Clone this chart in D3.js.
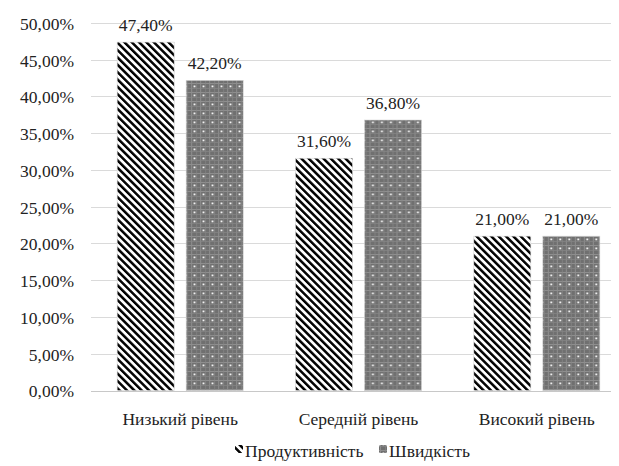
<!doctype html>
<html lang="uk">
<head>
<meta charset="utf-8">
<title>Рівні</title>
<script src="https://cdn.jsdelivr.net/npm/d3@7"></script>
<style>
  * { margin: 0; padding: 0; }
  body { background: #fff; width: 619px; height: 466px; overflow: hidden; }
</style>
</head>
<body>
<svg id="chart" width="619" height="466"></svg>
<script>
const categories = ["Низький рівень", "Середній рівень", "Високий рівень"];
const seriesNames = ["Продуктивність", "Швидкість"];
const productivity = [47.4, 31.6, 21.0];
const speed = [42.2, 36.8, 21.0];
const yTicks = [0, 5, 10, 15, 20, 25, 30, 35, 40, 45, 50];

const FONT = "'Liberation Serif', 'DejaVu Serif', 'Times New Roman', serif";
const fmt = v => v.toFixed(2).replace(".", ",") + "%";

const svg = d3.select("#chart");
const W = 619;
const plotLeft = 91, plotRight = 626, gridRight = 611;
const y0 = 390.5, y50 = 23;

const x = d3.scaleBand().domain(categories).range([plotLeft, plotRight]);
const groupW = 126;
const xs = d3.scaleBand().domain(seriesNames).range([0, groupW]).paddingInner(0.174);
const y = d3.scaleLinear().domain([0, 50]).range([y0, y50]);

// patterns
const defs = svg.append("defs");
const stripe = defs.append("pattern")
  .attr("id", "stripe").attr("patternUnits", "userSpaceOnUse")
  .attr("width", 5.2).attr("height", 5.2)
  .attr("patternTransform", "rotate(-45)");
stripe.append("rect").attr("width", 5.2).attr("height", 5.2).attr("fill", "#fff");
stripe.append("rect").attr("width", 2.5).attr("height", 5.2).attr("fill", "#000");

const dots = defs.append("pattern")
  .attr("id", "dots").attr("patternUnits", "userSpaceOnUse")
  .attr("width", 9).attr("height", 9);
dots.append("rect").attr("width", 9).attr("height", 9).attr("fill", "#707070");
dots.append("rect").attr("x", 0).attr("y", 2).attr("width", 9).attr("height", 1).attr("fill", "#8e8e8e");
dots.append("rect").attr("x", 2).attr("y", 0).attr("width", 1).attr("height", 9).attr("fill", "#8e8e8e");
dots.append("rect").attr("x", 0).attr("y", 7).attr("width", 9).attr("height", 0.7).attr("fill", "#858585");
dots.append("rect").attr("x", 7).attr("y", 0).attr("width", 0.7).attr("height", 9).attr("fill", "#858585");
dots.append("rect").attr("x", 4.5).attr("y", 4.5).attr("width", 1.8).attr("height", 1.8).attr("fill", "#fff");

// gridlines
svg.append("g").selectAll("line").data(yTicks).join("line")
  .attr("x1", plotLeft).attr("x2", gridRight)
  .attr("y1", d => Math.round(y(d)) + 0.5).attr("y2", d => Math.round(y(d)) + 0.5)
  .attr("stroke", d => d === 0 ? "#c8c8c8" : "#dadada").attr("stroke-width", 1);

// y axis labels
const yAxis = d3.axisLeft(y).tickValues(yTicks).tickFormat(fmt).tickSize(0).tickPadding(17);
svg.append("g").attr("transform", `translate(${plotLeft},0)`).call(yAxis)
  .call(g => g.select(".domain").remove())
  .selectAll("text").attr("dy", "0.36em");

// bars
const rows = categories.map((c, i) => ({ c, vals: [productivity[i], speed[i]] }));
const groups = svg.append("g").selectAll("g").data(rows).join("g")
  .attr("transform", d => `translate(${x(d.c) + (x.bandwidth() - groupW) / 2},0)`);

groups.selectAll("rect").data(d => d.vals.map((v, j) => ({ s: seriesNames[j], v }))).join("rect")
  .attr("x", d => xs(d.s)).attr("width", xs.bandwidth())
  .attr("y", d => y(d.v)).attr("height", d => y(0) - y(d.v))
  .attr("fill", d => d.s === seriesNames[0] ? "url(#stripe)" : "url(#dots)")
  .attr("stroke", "#d4d4d4").attr("stroke-width", 0.6);

groups.selectAll("text.val").data(d => d.vals.map((v, j) => ({ s: seriesNames[j], v }))).join("text")
  .attr("class", "val")
  .attr("x", d => xs(d.s) + xs.bandwidth() / 2)
  .attr("y", d => y(d.v) - 11)
  .attr("text-anchor", "middle")
  .text(d => fmt(d.v));

// x axis labels
svg.append("g").selectAll("text").data(categories).join("text")
  .attr("x", d => x(d) + x.bandwidth() / 2).attr("y", y0 + 34)
  .attr("text-anchor", "middle")
  .text(d => d);

// legend
const legend = svg.append("g").attr("transform", "translate(0,457)");
const legendX = [235, 379];
seriesNames.forEach((s, i) => {
  if (i === 0) {
    legend.append("rect").attr("x", legendX[i]).attr("y", -12).attr("width", 8).attr("height", 8)
      .attr("fill", "url(#stripe)");
  } else {
    legend.append("rect").attr("x", legendX[i]).attr("y", -12).attr("width", 8).attr("height", 8)
      .attr("rx", 1.5).attr("fill", "url(#dots)");
  }
  legend.append("text").attr("x", legendX[i] + 10).attr("y", 0).text(s);
});

// one font for every label
svg.selectAll("text")
  .style("font-family", FONT)
  .style("font-size", "17.5px")
  .style("fill", "#222");
</script>
</body>
</html>
